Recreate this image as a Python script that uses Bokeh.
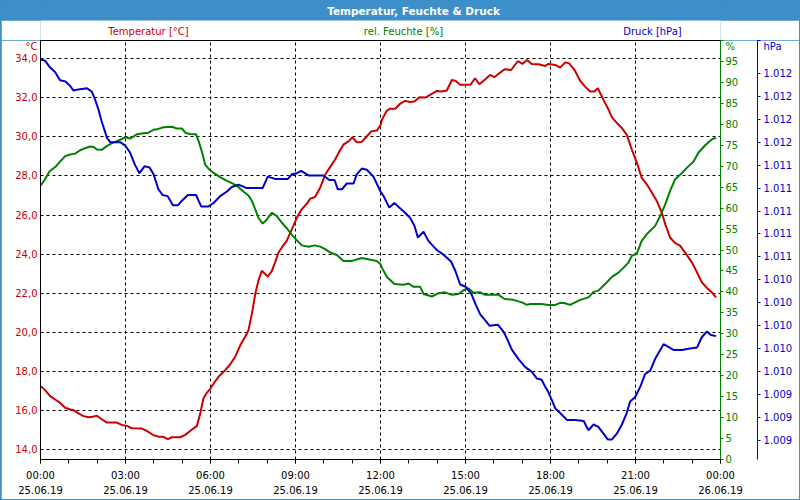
from bokeh.plotting import figure
from bokeh.layouts import column
from bokeh.models import (Range1d, LinearAxis, FixedTicker, CustomJSTickFormatter, Label)
from bokeh.embed import file_html
from bokeh.resources import INLINE

# ---------------- data ----------------
temp_hours = [0.01, 0.16, 0.34, 0.52, 0.69, 0.87, 1.05, 1.16, 1.34, 1.52, 1.69, 1.84, 1.99, 2.16, 2.34,
              2.69, 2.87, 3.05, 3.22, 3.58, 3.75, 3.99, 4.16, 4.34, 4.49, 4.64, 4.93, 5.11, 5.28, 5.52,
              5.64, 5.75, 5.87, 6.0, 6.11, 6.28, 6.52, 6.69, 6.87, 7.05, 7.22, 7.34, 7.46, 7.58, 7.69,
              7.81, 7.93, 8.02, 8.17, 8.28, 8.4, 8.52, 8.69, 8.87, 9.05, 9.22, 9.4, 9.52, 9.69, 9.87,
              10.05, 10.22, 10.4, 10.52, 10.69, 10.87, 11.01, 11.16, 11.34, 11.52, 11.67, 11.87, 12.0,
              12.05, 12.22, 12.34, 12.52, 12.69, 12.87, 13.05, 13.2, 13.37, 13.58, 13.75, 13.99, 14.16,
              14.34, 14.52, 14.66, 14.81, 14.99, 15.17, 15.34, 15.49, 15.67, 15.87, 16.02, 16.19, 16.38,
              16.61, 16.85, 17.01, 17.17, 17.34, 17.58, 17.81, 17.93, 18.17, 18.34, 18.52, 18.66, 18.85,
              19.05, 19.22, 19.4, 19.55, 19.67, 19.87, 20.05, 20.17, 20.34, 20.52, 20.69, 20.87, 21.05,
              21.22, 21.4, 21.58, 21.75, 21.93, 22.05, 22.22, 22.38, 22.58, 22.75, 22.99, 23.17, 23.34,
              23.52, 23.69, 23.84]
temperature = [17.24, 17.04, 16.73, 16.56, 16.39, 16.14, 16.05, 16.02, 15.85, 15.71, 15.65, 15.68, 15.73,
               15.55, 15.38, 15.38, 15.26, 15.21, 15.09, 15.07, 14.95, 14.73, 14.66, 14.65, 14.53, 14.63,
               14.63, 14.75, 14.95, 15.21, 15.85, 16.61, 16.9, 17.12, 17.38, 17.72, 18.06, 18.35, 18.74,
               19.33, 19.76, 20.1, 20.94, 21.96, 22.64, 23.15, 22.98, 22.85, 23.15, 23.58, 24.08, 24.34,
               24.68, 25.27, 25.87, 26.29, 26.58, 26.84, 26.92, 27.40, 28.07, 28.45, 28.84, 29.18, 29.6,
               29.77, 29.98, 29.72, 29.74, 30.03, 30.28, 30.32, 30.59,
               30.88, 31.33, 31.44, 31.44, 31.69, 31.84, 31.78, 31.81, 32.03, 32.01, 32.15, 32.35, 32.32,
               32.37, 32.91, 32.86, 32.66, 32.66, 32.66, 33.0, 32.69, 32.91, 33.17, 33.05, 33.25, 33.46,
               33.42, 33.88, 33.73, 33.93, 33.73, 33.71, 33.63, 33.73, 33.68, 33.54, 33.81, 33.76, 33.42,
               32.86, 32.57, 32.32, 32.32, 32.49, 31.89, 31.39, 31.0, 30.71, 30.45, 30.11, 29.35, 28.67,
               27.9, 27.57, 27.14, 26.72, 26.12, 25.53, 24.85, 24.59, 24.42, 24.08, 23.58, 23.07, 22.56,
               22.27, 22.05, 21.79]

hum_hours = [0.01, 0.16, 0.32, 0.52, 0.69, 0.87, 1.05, 1.22, 1.4, 1.58, 1.75, 1.87, 1.99, 2.16, 2.34,
             2.52, 2.69, 2.87, 2.99, 3.16, 3.4, 3.58, 3.81, 3.99, 4.16, 4.34, 4.64, 4.81, 4.99, 5.13,
             5.28, 5.49, 5.58, 5.69, 5.81, 5.93, 6.11, 6.34, 6.58, 6.81, 6.99, 7.17, 7.34, 7.46, 7.58,
             7.69, 7.84, 7.99, 8.17, 8.34, 8.52, 8.69, 8.87, 9.05, 9.22, 9.46, 9.67, 9.87, 10.05, 10.22,
             10.46, 10.69, 10.99, 11.34, 11.69, 11.87, 12.0, 12.05, 12.22, 12.49, 12.81, 12.99, 13.17,
             13.4, 13.52, 13.81, 14.05, 14.28, 14.52, 14.75, 14.93, 15.1, 15.28, 15.52, 15.69, 16.17,
             16.38, 16.69, 16.99, 17.17, 17.28, 17.69, 17.93, 18.17, 18.34, 18.52, 18.69, 18.87, 19.05,
             19.34, 19.52, 19.69, 19.93, 20.17, 20.4, 20.58, 20.75, 20.87, 21.05, 21.22, 21.4, 21.69,
             21.87, 22.05, 22.22, 22.4, 22.58, 22.81, 23.05, 23.22, 23.46, 23.69, 23.84]
humidity = [65.4, 66.9, 68.8, 69.8, 71.1, 72.4, 72.8, 73.0, 73.8, 74.3, 74.7, 74.6, 74.0, 73.9, 74.8,
            75.5, 76.0, 76.5, 76.9, 76.6, 77.6, 77.8, 78.0, 78.7, 78.9, 79.3, 79.4, 79.0, 79.0, 77.9,
            77.7, 77.6, 76.0, 73.6, 70.4, 69.4, 68.4, 67.4, 66.5, 65.8, 65.0, 63.9, 63.0, 61.7, 59.7,
            57.7, 56.3, 57.3, 58.9, 58.1, 56.5, 55.2, 53.6, 52.3, 51.1, 50.8, 51.1, 50.8, 50.2, 49.4,
            48.8, 47.4, 47.4, 48.1, 47.6, 47.4, 46.6, 45.8, 43.6, 41.9, 41.7, 42.0, 41.2,
            41.2, 39.5, 38.9, 39.7, 39.9, 39.3, 39.5, 40.4, 40.9, 39.8, 39.9, 39.3, 39.3,
            38.3, 38.1, 37.5, 36.9, 37.1, 37.1, 36.9, 36.9, 37.4, 37.3, 36.9, 37.5, 38.1,
            38.7, 40.0, 40.3, 41.9, 43.6, 44.6, 45.8, 47.0, 48.6, 49.2, 52.2, 53.8, 55.7,
            58.1, 60.9, 64.1, 66.9, 68.0, 69.6, 71.1, 73.2, 75.0, 76.4, 76.8]

press_hours = [0.02, 0.16, 0.34, 0.52, 0.69, 0.87, 1.05, 1.16, 1.34, 1.64, 1.81, 1.93, 2.05, 2.16, 2.28,
               2.34, 2.46, 2.81, 2.99, 3.16, 3.34, 3.49, 3.67, 3.85, 3.99, 4.16, 4.31, 4.49, 4.67, 4.85,
               4.99, 5.2, 5.49, 5.67, 5.93, 6.11, 6.34, 6.58, 6.75, 6.99, 7.28, 7.58, 7.84, 8.02, 8.28,
               8.73, 8.87, 9.05, 9.2, 9.46, 9.69, 9.99, 10.19, 10.38, 10.49, 10.64, 10.81, 11.05, 11.16,
               11.34, 11.52, 11.75, 12.0, 12.11, 12.31, 12.49, 12.66, 12.85, 13.05, 13.2, 13.32, 13.52,
               13.69, 13.99, 14.22, 14.49, 14.64, 14.81, 15.01, 15.2, 15.37, 15.52, 15.69, 15.85, 16.14,
               16.34, 16.46, 16.64, 16.87, 17.11, 17.34, 17.52, 17.69, 17.81, 17.93, 18.05, 18.17, 18.34,
               18.58, 18.87, 19.17, 19.34, 19.52, 19.69, 19.87, 20.02, 20.17, 20.34, 20.52, 20.69, 20.81,
               20.99, 21.17, 21.34, 21.52, 21.69, 21.99, 22.34, 22.64, 22.87, 23.17, 23.34, 23.52, 23.66,
               23.84]
pressure = [1012.32, 1012.31, 1012.25, 1012.21, 1012.14, 1012.13, 1012.09, 1012.05, 1012.06, 1012.07,
            1012.04, 1011.97, 1011.88, 1011.78, 1011.69, 1011.64, 1011.60, 1011.60, 1011.57, 1011.51,
            1011.40, 1011.33, 1011.39, 1011.38, 1011.32, 1011.19, 1011.14, 1011.13, 1011.05, 1011.05,
            1011.09, 1011.14, 1011.14, 1011.04, 1011.04, 1011.07, 1011.13, 1011.17, 1011.21, 1011.23,
            1011.2, 1011.2, 1011.2, 1011.3, 1011.28, 1011.28, 1011.32, 1011.33, 1011.35, 1011.31,
            1011.31, 1011.31, 1011.27, 1011.27, 1011.19, 1011.19, 1011.24, 1011.24, 1011.32, 1011.37,
            1011.36, 1011.30, 1011.17, 1011.13, 1011.03, 1011.07, 1011.03, 1010.99, 1010.94, 1010.87,
            1010.77, 1010.82, 1010.74, 1010.66, 1010.62, 1010.56, 1010.48, 1010.36, 1010.34, 1010.28,
            1010.18, 1010.10, 1010.05, 1010.00, 1010.01, 1009.95, 1009.89, 1009.79, 1009.71, 1009.64,
            1009.60, 1009.54, 1009.53, 1009.47, 1009.42, 1009.35, 1009.28, 1009.24, 1009.18, 1009.18,
            1009.17, 1009.09, 1009.14, 1009.12, 1009.06, 1009.01, 1009.01, 1009.06, 1009.14, 1009.24,
            1009.34, 1009.38, 1009.47, 1009.58, 1009.61, 1009.71, 1009.84, 1009.79, 1009.79, 1009.80,
            1009.81, 1009.90, 1009.95, 1009.92, 1009.91]

x_ticks = [0, 3, 6, 9, 12, 15, 18, 21, 24]
x_tick_labels = ["00:00\n25.06.19", "03:00\n25.06.19", "06:00\n25.06.19", "09:00\n25.06.19",
                 "12:00\n25.06.19", "15:00\n25.06.19", "18:00\n25.06.19", "21:00\n25.06.19",
                 "00:00\n26.06.19"]
temp_ticks = [14, 16, 18, 20, 22, 24, 26, 28, 30, 32, 34]
hum_ticks = [0, 5, 10, 15, 20, 25, 30, 35, 40, 45, 50, 55, 60, 65, 70, 75, 80, 85, 90, 95]
press_ticks = [1009.0, 1009.2, 1009.4, 1009.6, 1009.8, 1010.0, 1010.2, 1010.4, 1010.6, 1010.8,
               1011.0, 1011.2, 1011.4, 1011.6, 1011.8, 1012.0, 1012.2]

title_text = "Temperatur, Feuchte & Druck"
series_titles = ["Temperatur [°C]", "rel. Feuchte [%]", "Druck [hPa]"]
units = ["°C", "%", "hPa"]

# axis ranges
X0, X1 = 0, 24
T0, T1 = 13.49, 34.93
H0, H1 = 0, 100
P0, P1 = 1008.835, 1012.486

# ---------------- style ----------------
RED = "#cc0000"
GREEN = "#008000"
BLUE = "#0000cc"
BAR = "#3d8ec9"
FONT = "DejaVu Sans"
FS = "10px"


def strip_fig(height, yr, fill):
    f = figure(width=798, height=height, output_backend="svg", toolbar_location=None,
               x_range=Range1d(40, 720), y_range=Range1d(*yr),
               x_axis_location=None, y_axis_location=None,
               min_border=0, outline_line_color=None,
               background_fill_color=fill, border_fill_color=fill,
               margin=(0, 1, 0, 1))
    f.grid.visible = False
    return f


def add_label(f, text, x, y, color, bold=False, size=FS):
    f.add_layout(Label(x=x, y=y, text=text, text_align="center", text_baseline="middle",
                       text_color=color, text_font=FONT, text_font_size=size,
                       text_font_style="bold" if bold else "normal"))


# ---------------- header: title bar ----------------
bar = strip_fig(20, (20, 0), BAR)
add_label(bar, title_text, 413, 10, "white", bold=True, size="10.5px")

# ---------------- header: series titles ----------------
head = strip_fig(20, (40, 20), "white")
add_label(head, series_titles[0], 148, 31, RED)
add_label(head, series_titles[1], 403, 31, GREEN)
add_label(head, series_titles[2], 652, 31, BLUE)

# ---------------- main chart ----------------
p = figure(width=798, height=459, output_backend="svg", toolbar_location=None,
           x_range=Range1d(X0, X1), y_range=Range1d(T0, T1),
           x_axis_location=None, y_axis_location=None,
           min_border_left=39, min_border_right=79, min_border_top=0, min_border_bottom=38,
           background_fill_color="white", border_fill_color="white",
           outline_line_color="black", outline_line_width=1,
           margin=(0, 1, 1, 1))
p.extra_y_ranges = {"hum": Range1d(H0, H1), "press": Range1d(P0, P1)}

xaxis = LinearAxis(ticker=FixedTicker(ticks=x_ticks, minor_ticks=list(range(25))))
xaxis.major_label_overrides = {t: lab for t, lab in zip(x_ticks, x_tick_labels)}
xaxis.axis_line_color = "black"
xaxis.major_tick_line_color = "black"
xaxis.minor_tick_line_color = "black"
xaxis.major_tick_out = 4
xaxis.major_tick_in = 0
xaxis.minor_tick_out = 4
xaxis.minor_tick_in = 0
xaxis.major_label_standoff = 6
xaxis.major_label_text_font = FONT
xaxis.major_label_text_font_size = FS
xaxis.major_label_text_color = "black"
xaxis.major_label_text_line_height = 1.45
p.add_layout(xaxis, "below")

taxis = LinearAxis(ticker=FixedTicker(ticks=temp_ticks + [T1], minor_ticks=[]))
taxis.formatter = CustomJSTickFormatter(code="return tick.toFixed(1).replace('.', ',')")
taxis.major_label_overrides = {T1: units[0]}
taxis.axis_line_color = "black"
taxis.major_tick_out = 0
taxis.major_tick_in = 0
taxis.minor_tick_line_color = None
taxis.major_label_standoff = 3
taxis.major_label_text_font = FONT
taxis.major_label_text_font_size = FS
taxis.major_label_text_color = RED
p.add_layout(taxis, "left")

haxis = LinearAxis(y_range_name="hum", ticker=FixedTicker(ticks=hum_ticks + [H1], minor_ticks=[]))
haxis.major_label_overrides = {H1: units[1]}
haxis.axis_line_color = GREEN
haxis.major_tick_line_color = GREEN
haxis.minor_tick_line_color = None
haxis.major_tick_out = 3
haxis.major_tick_in = 0
haxis.major_label_standoff = 2
haxis.major_label_text_font = FONT
haxis.major_label_text_font_size = FS
haxis.major_label_text_color = GREEN
haxis.axis_label = " "
haxis.axis_label_text_font_size = "10px"
haxis.axis_label_standoff = 2
p.add_layout(haxis, "right")

paxis = LinearAxis(y_range_name="press", ticker=FixedTicker(ticks=press_ticks + [P1], minor_ticks=[]))
paxis.formatter = CustomJSTickFormatter(code="return (Math.round(tick) / 1000).toFixed(3)")
paxis.major_label_overrides = {P1: units[2]}
paxis.axis_line_color = BLUE
paxis.major_tick_line_color = BLUE
paxis.minor_tick_line_color = None
paxis.major_tick_out = 3
paxis.major_tick_in = 0
paxis.major_label_standoff = 3
paxis.major_label_text_font = FONT
paxis.major_label_text_font_size = FS
paxis.major_label_text_color = BLUE
p.add_layout(paxis, "right")

p.xgrid.ticker = FixedTicker(ticks=x_ticks)
p.ygrid.ticker = FixedTicker(ticks=temp_ticks)
for g in (p.xgrid, p.ygrid):
    g.grid_line_color = "black"
    g.grid_line_dash = "3 3"
    g.grid_line_width = 1

p.line(temp_hours, temperature, line_color=RED, line_width=2)
p.line(hum_hours, humidity, line_color=GREEN, line_width=2, y_range_name="hum")
p.line(press_hours, pressure, line_color=BLUE, line_width=2, y_range_name="press")

layout = column(bar, head, p, spacing=0, styles={"background-color": BAR})

open("out.html", "w").write(file_html(layout, INLINE))
